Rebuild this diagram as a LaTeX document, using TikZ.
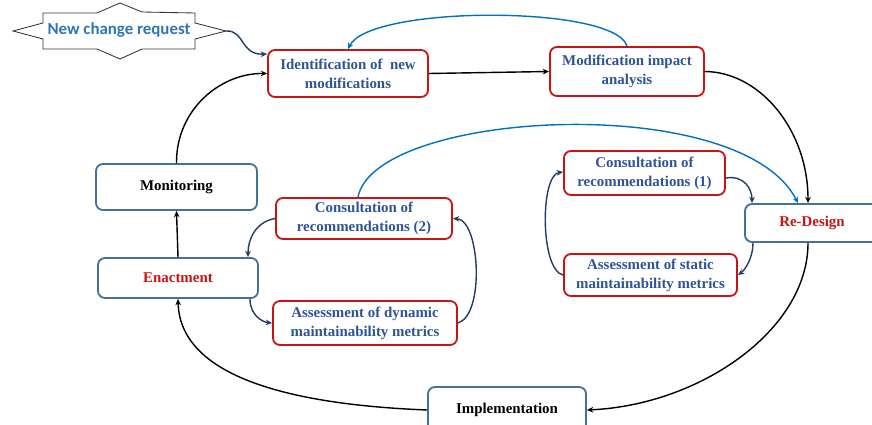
\documentclass[tikz,border=0pt]{standalone}
\usepackage{fontspec}
\setmainfont{Liberation Serif}
\newfontfamily\reqfont{Carlito}
\usepackage{tikz}
\usetikzlibrary{arrows.meta, positioning, calc}
\definecolor{boxred}{RGB}{200,20,20}
\definecolor{boxblue}{RGB}{65,113,156}
\definecolor{txtblue}{RGB}{47,84,150}
\definecolor{reqblue}{RGB}{46,117,182}
\definecolor{loopblue}{RGB}{0,112,192}
\definecolor{navy}{RGB}{35,60,105}

\begin{document}
\begin{tikzpicture}[
    x=0.025cm, y=-0.025cm,
    block/.style={rectangle, rounded corners=5pt, draw=#1, line width=1.3pt, fill=white,
                  align=center, inner sep=1pt,
                  font=\bfseries\fontsize{10.6}{13.5}\selectfont},
    task/.style={block=boxred, text=txtblue},
    phase/.style={block=boxblue},
    arr/.style={-{Stealth[length=4.5pt,width=4pt]}, line width=1pt, #1},
]
    \useasboundingbox (0,0) rectangle (872,425);

    % change request
    \node[text=reqblue, font=\reqfont\bfseries\fontsize{12}{14}\selectfont] (req) at (119,30) {New change request};
    \draw[line width=0.6pt, draw=black!80, shift={(120,31)}]
        (-107,0) -- (-77,-8) -- (-77,-18) -- (-23,-18) -- (0,-28) -- (22,-19) -- (75,-18) -- (75,-8)
        -- (106,0) -- (75,8) -- (75,18) -- (22,18) -- (0,28) -- (-23,18) -- (-77,18) -- (-77,8) -- cycle;
    \coordinate (reqtip) at (226,31);

    % main cycle
    \node[task, minimum width=4cm, minimum height=1.175cm] (ident) at (348,73.5) {Identification of~ new\\modifications};
    \node[task, minimum width=3.85cm, minimum height=1.225cm] (impact) at (627,71.5) {Modification impact\\analysis};
    \node[phase, minimum width=3.35cm, minimum height=0.95cm, text=boxred] (redesign) at (812,223) {Re-Design};
    \node[phase, minimum width=3.95cm, minimum height=1.15cm] (impl) at (507,410) {Implementation};
    \node[phase, minimum width=4cm, minimum height=1cm, text=boxred] (enact) at (178,278) {Enactment};
    \node[phase, minimum width=4.025cm, minimum height=1.15cm] (monitor) at (176.5,187) {Monitoring};

    % recommendation loops
    \node[task, minimum width=4.025cm, minimum height=1.1cm] (consultA) at (644.5,173) {Consultation of\\recommendations (1)};
    \node[task, minimum width=4.325cm, minimum height=1.05cm] (staticm) at (650.5,275) {Assessment of static\\maintainability metrics};
    \node[task, minimum width=4.4cm, minimum height=1.025cm] (consultB) at (364,218.5) {Consultation of\\recommendations (2)};
    \node[task, minimum width=4.6cm, minimum height=1.1cm] (dynm) at (365,323) {Assessment of dynamic\\maintainability metrics};

    \draw[arr=navy] (reqtip) .. controls (245,30) and (240,55) .. (ident.west |- 0,54);
    \draw[arr=black] (ident.east) -- (impact.west);
    \draw[arr=loopblue] (impact.north) .. controls (615,5) and (370,5) .. (ident.north);
    \draw[arr=black] (impact.east) .. controls (760,72) and (808,130) .. (redesign.north -| 808,0);
    \draw[arr=black] (redesign.south -| 808,0) .. controls (808,330) and (700,405) .. (impl.east);
    \draw[arr=black] (impl.west) .. controls (300,405) and (180,380) .. (enact.south);
    \draw[arr=black] (enact.north) -- (monitor.south);
    \draw[arr=black] (monitor.north) .. controls (176,110) and (220,73) .. (ident.west);

    \draw[arr=loopblue] (consultB.north -| 358,0) .. controls (375,110) and (740,90) .. (redesign.north -| 798,0);

    \draw[arr=navy] (consultA.east |- 0,178) .. controls (745,175) and (752,190) .. (redesign.north -| 752,0);
    \draw[arr=navy] (redesign.south -| 753,0) .. controls (753,258) and (745,270) .. (staticm.east);
    \draw[arr=navy] (staticm.west) .. controls (540,270) and (540,175) .. (consultA.west |- 0,172);

    \draw[arr=navy] (consultB.west) .. controls (255,222) and (248,240) .. (enact.north -| 248,0);
    \draw[arr=navy] (enact.south -| 250,0) .. controls (250,315) and (262,322) .. (dynm.west);
    \draw[arr=navy] (dynm.east) .. controls (485,315) and (480,220) .. (consultB.east);
\end{tikzpicture}
\end{document}
